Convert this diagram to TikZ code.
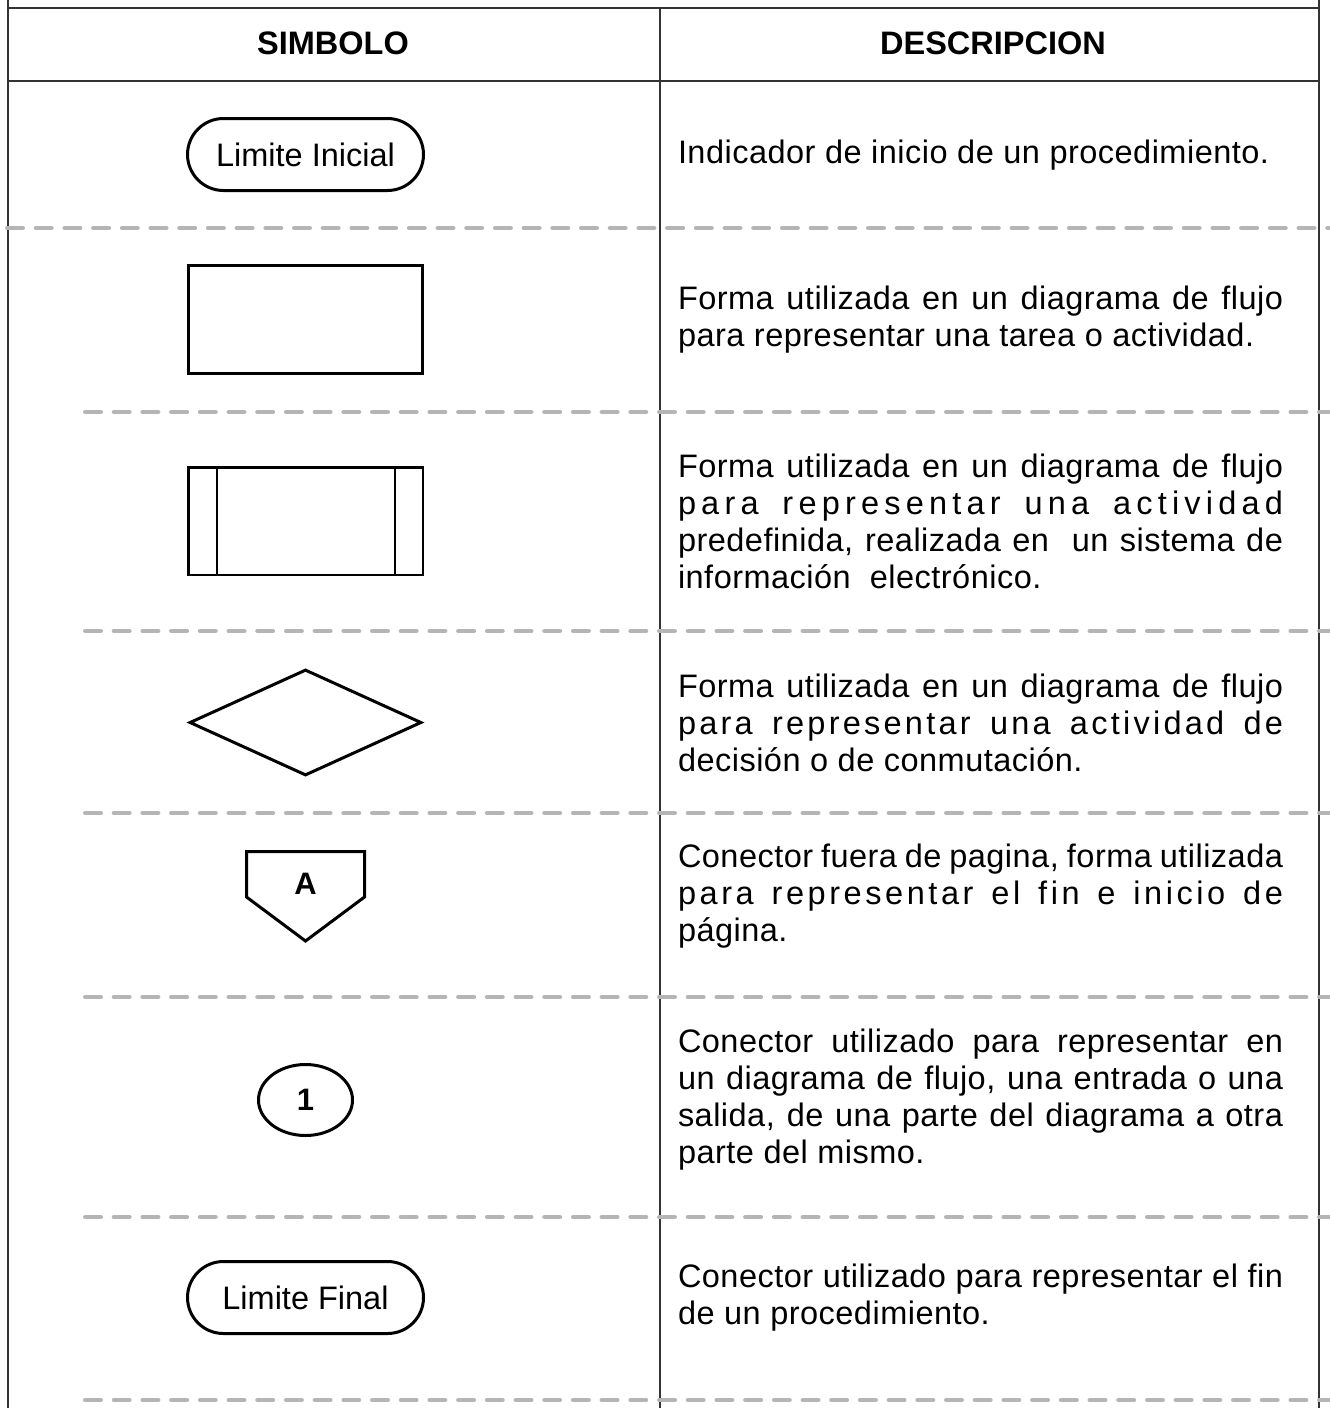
\documentclass[tikz,border=0pt]{standalone}
\usepackage{fontspec}
\setmainfont{Liberation Sans}
\usetikzlibrary{shapes.geometric,shapes.misc}
\newcommand{\espaciado}[2]{{\addfontfeature{LetterSpace=#1}#2}}

\begin{document}
\begin{tikzpicture}[x=1pt, y=-1pt,
        main/.style = {draw, line width=3pt, inner sep=0pt, font=\fontsize{32.5}{37}\selectfont},
        desc/.style = {text width=605pt, align=justify, inner sep=0pt, font=\fontsize{32.5}{37}\selectfont\addfontfeature{LetterSpace=1.5}},
        head/.style = {inner sep=0pt, font=\fontsize{32.5}{37}\selectfont\bfseries},
        tabla/.style = {draw=black!80, line width=1.3pt},
        corte/.style = {draw=black!29, line width=4.7pt, line cap=round, dash pattern=on 15.3pt off 13.4pt}]
        \useasboundingbox (0,0) rectangle (1330,1408);

        % tabla
        \draw[tabla] (8,0) -- (8,1408);
        \draw[tabla] (1319,0) -- (1319,1408);
        \draw[tabla] (660,8) -- (660,1408);
        \draw[tabla] (8,8) -- (1319,8);
        \draw[tabla] (8,81) -- (1319,81);

        \node[head] (s) at (333,43.5) {SIMBOLO};
        \node[head] (d) at (993,43.5) {DESCRIPCION};

        % simbolos
        \node[main, rounded rectangle, minimum width=236pt, minimum height=72pt] (0) at (305.5,154.5) {Limite Inicial};
        \node[main, rectangle, minimum width=234pt, minimum height=108pt] (1) at (305.5,319.5) {};
        \node[main, rectangle, line width=2.5pt, minimum width=234.5pt, minimum height=107.5pt] (2) at (305.5,521) {};
        \draw[line width=2.5pt] ([xshift=30pt]2.north west) -- ([xshift=30pt]2.south west);
        \draw[line width=2.5pt] ([xshift=-29pt]2.north east) -- ([xshift=-29pt]2.south east);
        \node[main, diamond, minimum width=232pt, minimum height=106pt] (3) at (305.5,722.5) {};
        \node[inner sep=0pt, font=\fontsize{31}{35}\selectfont\bfseries] (4) at (305.5,884) {A};
        \draw[line width=3pt] (246.5,851.5) -- (364.5,851.5) -- (364.5,897) -- (305.5,941) -- (246.5,897) -- cycle;
        \node[main, ellipse, minimum width=94pt, minimum height=71pt, font=\fontsize{31}{35}\selectfont\bfseries] (5) at (305.5,1100) {1};
        \node[main, rounded rectangle, minimum width=236pt, minimum height=72pt] (6) at (305.5,1297.5) {Limite Final};

        % descripciones
        \node[desc] (7) at (980.5,155) {Indicador de inicio de un procedimiento.};
        \node[desc] (8) at (980.5,319.5) {Forma utilizada en un diagrama de flujo\linebreak para representar una tarea o actividad.};
        \node[desc] (9) at (980.5,521) {Forma utilizada en un diagrama de flujo\linebreak \espaciado{16}{para representar una actividad}\linebreak predefinida, realizada en\ \ un sistema de\linebreak información\ \ electrónico.};
        \node[desc] (10) at (980.5,722.5) {Forma utilizada en un diagrama de flujo\linebreak \espaciado{10}{para representar una actividad de}\linebreak decisión o de conmutación.};
        \node[desc] (11) at (980.5,896) {Conector fuera de pagina, forma utilizada\linebreak \espaciado{11}{para representar el fin e inicio de}\linebreak página.};
        \node[desc] (12) at (980.5,1100) {Conector utilizado para representar en\linebreak un diagrama de flujo, una entrada o una\linebreak salida, de una parte del diagrama a otra\linebreak parte del mismo.};
        \node[desc] (13) at (980.5,1297.5) {Conector utilizado para representar el fin\linebreak de un procedimiento.};

        % separadores
        \draw[corte] (7.35,228) -- (1330,228);
        \draw[corte] (85.35,412) -- (1330,412);
        \draw[corte] (85.35,631) -- (1330,631);
        \draw[corte] (85.35,813) -- (1330,813);
        \draw[corte] (85.35,997) -- (1330,997);
        \draw[corte] (85.35,1217) -- (1330,1217);
        \draw[corte] (85.35,1400) -- (1330,1400);
\end{tikzpicture}
\end{document}
